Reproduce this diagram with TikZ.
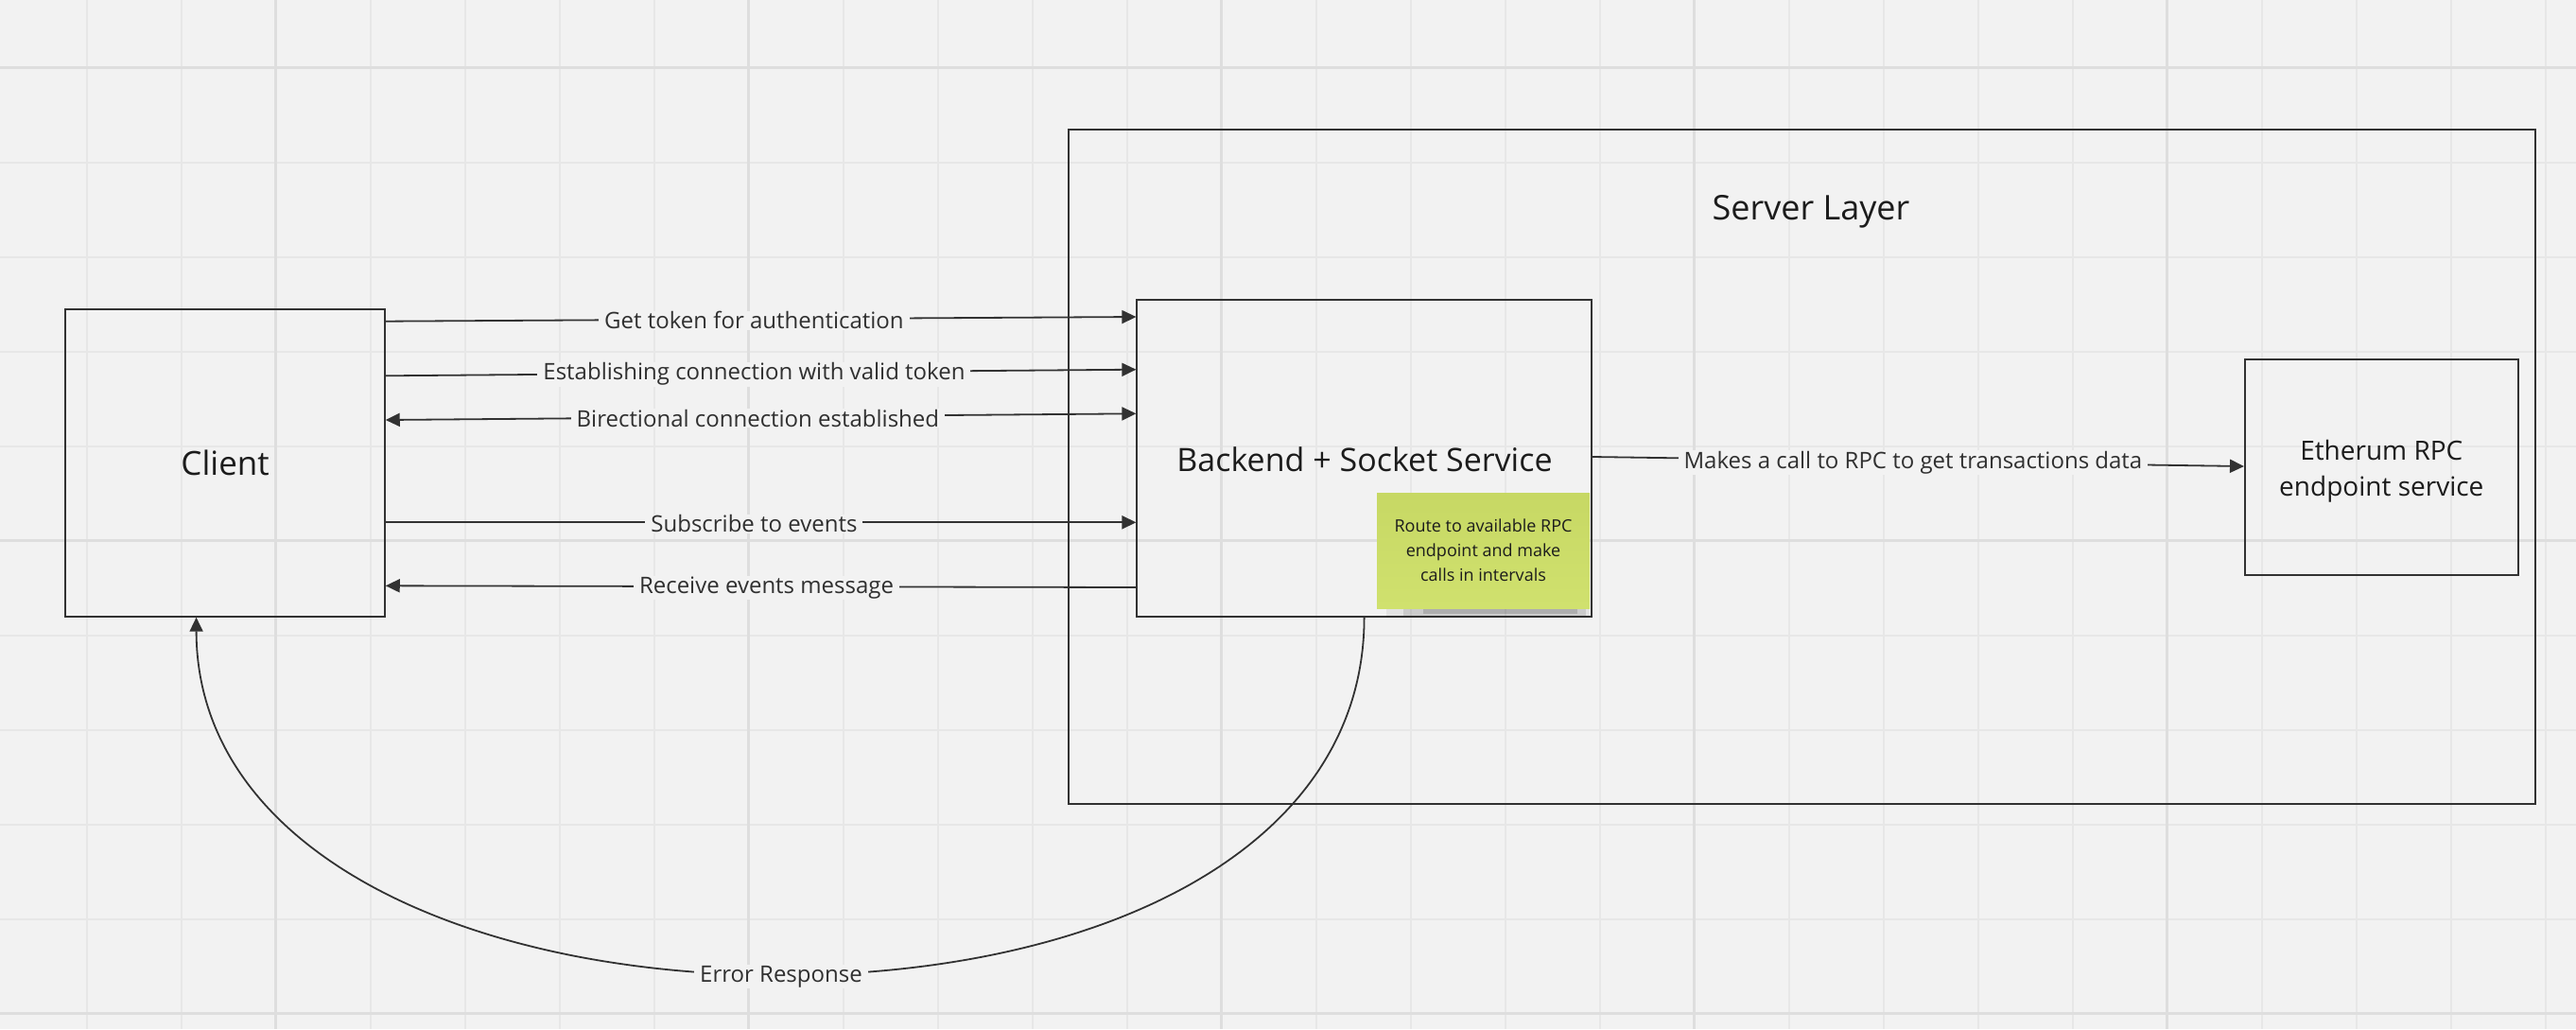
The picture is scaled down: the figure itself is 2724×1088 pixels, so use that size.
\documentclass[tikz,border=0pt]{standalone}
\usepackage{fontspec}
\setmainfont{Open Sans}
\usetikzlibrary{arrows.meta,calc}
\definecolor{bg}{RGB}{242,242,242}
\definecolor{gridminor}{RGB}{231,231,231}
\definecolor{gridmajor}{RGB}{222,222,222}
\definecolor{ink}{RGB}{50,50,50}
\definecolor{txt}{RGB}{28,28,28}
\definecolor{lbltxt}{RGB}{48,48,48}
\definecolor{stickytop}{RGB}{199,216,100}
\definecolor{stickybot}{RGB}{208,225,110}
\tikzset{
  box/.style={draw=ink, line width=2pt, inner sep=0pt, text=txt},
  bigtxt/.style={font=\fontsize{35}{42}\selectfont},
  conn/.style={draw=ink, line width=1.8pt},
  arr/.style={-{Triangle[length=15pt,width=14pt]}},
  arrboth/.style={{Triangle[length=15pt,width=14pt]}-{Triangle[length=15pt,width=14pt]}},
  lbl/.style={fill=bg, text=lbltxt, font=\fontsize{24}{29}\selectfont, inner xsep=6pt, inner ysep=1pt, yshift=-1.5pt},
  gridmin/.style={draw=gridminor, line width=2pt},
  gridmaj/.style={draw=gridmajor, line width=3pt}
}
\begin{document}
\begin{tikzpicture}[x=1pt,y=-1pt]
% background and board grid
\fill[bg] (0,0) rectangle (2724,1088);
\useasboundingbox (0,0) rectangle (2724,1088);
\foreach \i in {0,...,26} \draw[gridmin] (91.8+100*\i,0) -- (91.8+100*\i,1088);
\foreach \j in {0,...,10} \draw[gridmin] (0,71.7+100*\j) -- (2724,71.7+100*\j);
\foreach \i in {291.8,791.8,1291.8,1791.8,2291.8} \draw[gridmaj] (\i,0) -- (\i,1088);
\foreach \j in {71.7,571.7,1071.7} \draw[gridmaj] (0,\j) -- (2724,\j);

% server layer container
\node[box, minimum width=1551pt, minimum height=713pt] (server) at (1905.5,493.5) {};
\node[text=txt, font=\fontsize{36}{43}\selectfont] (servertitle) at (1915,224) {Server Layer};

% main boxes
\node[box, bigtxt, minimum width=337.3pt, minimum height=325pt] (client) at (238.1,489.2) {Client};
\node[box, minimum width=480.4pt, minimum height=335pt] (backend) at (1442.6,484.2) {};
\node[text=txt, font=\fontsize{34}{41}\selectfont] (backendtxt) at (1443,485.5) {Backend + Socket Service};
\node[box, minimum width=288.6pt, minimum height=227.7pt] (eth) at (2518.3,493.85) {};
\node[align=center, text=txt, font=\fontsize{28}{38}\selectfont] (ethtxt) at (2518.3,498) {Etherum RPC\\endpoint service};

% sticky note with soft shadow
\fill[black, opacity=0.06] (1466,632) rectangle (1681,653);
\fill[black, opacity=0.10] (1484,634) rectangle (1677,651);
\fill[black, opacity=0.14] (1505,636) rectangle (1668,648.5);
\node[inner sep=0pt, minimum width=225pt, minimum height=121.3pt, top color=stickytop, bottom color=stickybot, draw=none] (sticky) at (1568.5,582.35) {};
\node[align=center, text=txt, font=\fontsize{18}{25.8}\selectfont] (stickytxt) at (1568.5,582) {Route to available RPC\\endpoint and make\\calls in intervals};

% connectors client <-> backend
\draw[conn,arr] ($(client.north east)+(0,14)$) -- node[lbl,pos=0.491]{Get token for authentication} ($(backend.north west)+(0,19.3)$);
\draw[conn,arr] ($(client.north east)+(0,71.6)$) -- node[lbl,pos=0.491]{Establishing connection with valid token} ($(backend.north west)+(0,75)$);
\draw[conn,arrboth] ($(client.north east)+(0,118.3)$) -- node[lbl,pos=0.496]{Birectional connection established} ($(backend.north west)+(0,121.6)$);
\draw[conn,arr] ($(client.north east)+(0,226.6)$) -- node[lbl,pos=0.491]{Subscribe to events} ($(backend.north west)+(0,236.6)$);
\draw[conn,arr] ($(backend.north west)+(0,305.3)$) -- node[lbl,pos=0.4925]{Receive events message} ($(client.north east)+(0,293.6)$);

% backend -> RPC
\draw[conn,arr] ($(backend.north east)+(0,167.3)$) -- node[lbl,pos=0.492]{Makes a call to RPC to get transactions data} ($(eth.north west)+(0,114)$);

% error response curve
\coordinate (errend) at ($(client.south west)!0.41!(client.south east)$);
\coordinate (errlow) at (826,1031);
\draw[conn,arr] (backend.south) .. controls (1442.6,902) and (1156,1031) .. (errlow) .. controls (496,1031) and (208,902) .. (errend);
\node[lbl] (errlbl) at (errlow) {Error Response};
\end{tikzpicture}
\end{document}
